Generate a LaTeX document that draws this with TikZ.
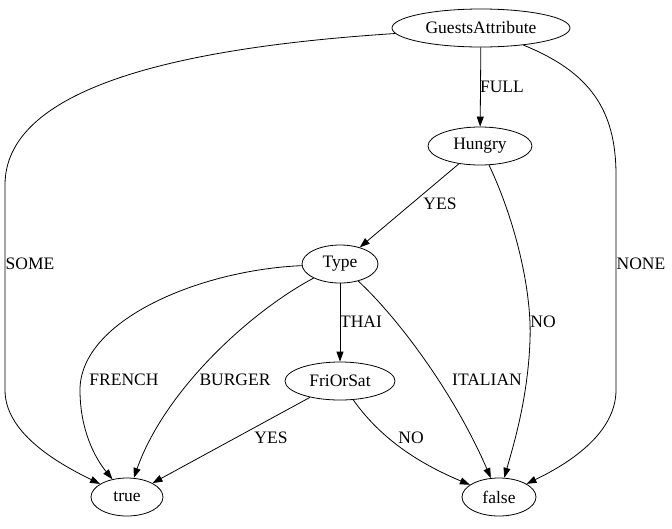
\documentclass[tikz,border=0pt]{standalone}
\usepackage{fontspec}
\setmainfont{Liberation Serif}
\usetikzlibrary{arrows.meta, shapes.geometric}
\tikzset{
  >={Triangle[length=10pt, width=7pt]}, % filled arrow heads
  every path/.style={line width=0.8pt},
  attr/.style={ellipse, draw=black, inner sep=0pt, minimum height=38pt, font=\fontsize{17.5}{20}\selectfont}, % decision nodes
  lbl/.style={inner sep=0pt, font=\fontsize{17.5}{20}\selectfont}, % edge labels
}

\begin{document}
\begin{tikzpicture}[x=1pt, y=-1pt]
  \useasboundingbox (0,0) rectangle (672,528);

  % nodes
  \node[attr, minimum width=178pt] (guests) at (481,28) {GuestsAttribute};
  \node[attr, minimum width=104pt] (hungry) at (480,146) {Hungry};
  \node[attr, minimum width=76pt] (type) at (340,264) {Type};
  \node[attr, minimum width=110pt] (frisat) at (340,381) {FriOrSat};
  \node[attr, minimum width=72pt] (true) at (127,497) {true};
  \node[attr, minimum width=74pt] (false) at (499,497) {false};

  % edges
  \draw[->] (guests) -- (hungry);
  \draw[->] (guests) .. controls (170,48) and (5,90) .. (5,185) -- (5,390)
    .. controls (5,432) and (55,462) .. (true);
  \draw[->] (guests) .. controls (590,72) and (616,110) .. (616,175) -- (616,390)
    .. controls (616,432) and (572,462) .. (false);
  \draw[->] (hungry) -- (type);
  \draw[->] (hungry) .. controls (515,220) and (532,290) .. (530,340)
    .. controls (528,400) and (512,450) .. (false);
  \draw[->] (type) .. controls (200,270) and (80,320) .. (80,390)
    .. controls (80,430) and (95,458) .. (true);
  \draw[->] (type) .. controls (250,312) and (165,390) .. (true);
  \draw[->] (type) -- (frisat);
  \draw[->] (type) .. controls (400,320) and (455,395) .. (false);
  \draw[->] (frisat) -- (true);
  \draw[->] (frisat) .. controls (385,445) and (430,468) .. (false);

  % labels
  \node[lbl] (lfull) at (502,87) {FULL};
  \node[lbl] (lsome) at (30,264) {SOME};
  \node[lbl] (lnone) at (641,264) {NONE};
  \node[lbl] (lyes1) at (440,204) {YES};
  \node[lbl] (lno1) at (543,322) {NO};
  \node[lbl] (lthai) at (361,322) {THAI};
  \node[lbl] (lfrench) at (124,380) {FRENCH};
  \node[lbl] (lburger) at (235,380) {BURGER};
  \node[lbl] (litalian) at (487,380) {ITALIAN};
  \node[lbl] (lyes2) at (271,438) {YES};
  \node[lbl] (lno2) at (411,438) {NO};
\end{tikzpicture}
\end{document}
